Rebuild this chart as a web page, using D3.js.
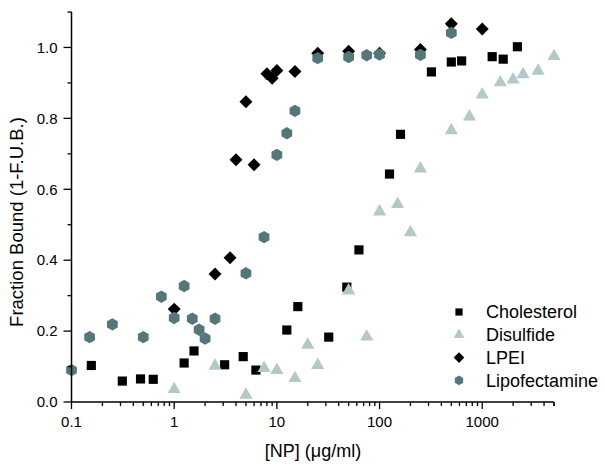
<!DOCTYPE html>
<html><head><meta charset="utf-8">
<script src="https://cdn.jsdelivr.net/npm/d3@7"></script>
<style>body{margin:0;background:#fff;}svg{display:block;font-family:"Liberation Sans",Arial,sans-serif;}</style>
</head><body>
<svg id="c" width="605" height="467"></svg>
<script>
const cholX = [0.156,0.3125,0.47,0.625,1.25,1.56,3.1,4.7,6.25,12.5,16,32,48,63,125,160,320,500,630,1250,1600,2200];
const cholY = [0.103,0.059,0.065,0.064,0.110,0.144,0.105,0.128,0.090,0.203,0.269,0.183,0.324,0.429,0.643,0.755,0.931,0.959,0.962,0.974,0.967,1.002];
const disX = [1,2.5,5,7.5,10,15,20,25,50,75,100,150,200,250,500,750,1000,1500,2000,2500,3500,5000];
const disY = [0.036,0.102,0.020,0.095,0.090,0.067,0.161,0.104,0.314,0.184,0.537,0.558,0.478,0.658,0.766,0.805,0.867,0.901,0.909,0.924,0.934,0.975];
const lpeiX = [1,2.5,3.5,4,5,6,8,9,10,15,25,50,100,250,500,1000];
const lpeiY = [0.262,0.361,0.407,0.683,0.847,0.669,0.926,0.913,0.935,0.932,0.984,0.989,0.984,0.994,1.067,1.052];
const lipoX = [0.1,0.15,0.25,0.5,0.75,1,1.25,1.5,1.75,2,2.5,5,7.5,10,12.5,15,25,50,75,100,250,500];
const lipoY = [0.090,0.183,0.219,0.183,0.297,0.237,0.327,0.235,0.204,0.179,0.235,0.363,0.465,0.697,0.758,0.821,0.970,0.973,0.978,0.980,0.979,1.041];
const seriesNames = ["Cholesterol","Disulfide","LPEI","Lipofectamine"];
const xTickLabels = ["0.1","1","10","100","1000"];
const yTickLabels = ["0.0","0.2","0.4","0.6","0.8","1.0"];

const svg = d3.select("#c");
const L = 71.5, R = 554, T = 12, B = 402;
const x = d3.scaleLog().domain([0.1, 5000]).range([L, R]);
const y = d3.scaleLinear().domain([0, 1.1]).range([B, T]);

const hex = {draw(ctx, size){ const r = Math.sqrt(size/ (3*Math.sqrt(3)/2)); for(let i=0;i<6;i++){const a=Math.PI/2 + i*Math.PI/3; const px=r*Math.cos(a), py=r*Math.sin(a); i?ctx.lineTo(px,py):ctx.moveTo(px,py);} ctx.closePath(); }};
const diamond = {draw(ctx, size){ const r=Math.sqrt(size/2); ctx.moveTo(0,-r); ctx.lineTo(r,0); ctx.lineTo(0,r); ctx.lineTo(-r,0); ctx.closePath(); }};
const styles = [
  {type: d3.symbolSquare, size: 84, fill: "#000"},
  {type: d3.symbolTriangle, size: 75, fill: "#b3c9c8"},
  {type: diamond, size: 84, fill: "#000"},
  {type: hex, size: 100, fill: "#567779"}
];
const legStyles = [
  {type: d3.symbolSquare, size: 52},
  {type: d3.symbolTriangle, size: 50},
  {type: diamond, size: 56},
  {type: hex, size: 60}
];
const data = [[cholX,cholY],[disX,disY],[lpeiX,lpeiY],[lipoX,lipoY]];

data.forEach((d, i) => {
  const pts = d[0].map((v, j) => [v, d[1][j]]);
  svg.append("g").selectAll("path").data(pts).join("path")
    .attr("d", d3.symbol().type(styles[i].type).size(styles[i].size))
    .attr("transform", p => `translate(${x(p[0])},${y(p[1])})`)
    .attr("fill", styles[i].fill);
});

const minorX = [];
for (let e = -1; e <= 3; e++) for (let m = 1; m <= 9; m++) { const v = m*Math.pow(10,e); if (v <= 5000) minorX.push(v); }
minorX.push(5000);
const majorX = [0.1,1,10,100,1000];
const xa = svg.append("g").attr("transform", `translate(0,${B})`);
xa.append("line").attr("x1", L).attr("x2", R).attr("stroke","#000").attr("stroke-width",1.5);
xa.selectAll("line.t").data(minorX).join("line").attr("class","t")
  .attr("x1", d => x(d)).attr("x2", d => x(d)).attr("y1", 0)
  .attr("y2", d => majorX.includes(d) ? 7 : 4).attr("stroke","#000").attr("stroke-width",1.3);
xa.selectAll("text").data(majorX).join("text")
  .attr("x", d => x(d)).attr("y", 25).attr("text-anchor","middle")
  .attr("font-size", 15).text((d,i) => xTickLabels[i]);

const yTicks = d3.range(0, 12).map(i => i/10);
const ya = svg.append("g").attr("transform", `translate(${L},0)`);
ya.append("line").attr("y1", T).attr("y2", B).attr("stroke","#000").attr("stroke-width",1.5);
ya.selectAll("line.t").data(yTicks).join("line").attr("class","t")
  .attr("y1", d => y(d)).attr("y2", d => y(d)).attr("x1", 0)
  .attr("x2", (d,i) => i%2===0 ? -8 : -4).attr("stroke","#000").attr("stroke-width",1.3);
ya.selectAll("text").data(yTicks.filter((d,i)=>i%2===0 && i<=10)).join("text")
  .attr("x", -14).attr("y", d => y(d)).attr("dy","0.35em").attr("text-anchor","end")
  .attr("font-size", 15).text((d,i) => yTickLabels[i]);

svg.append("text").attr("x", 313).attr("y", 457).attr("text-anchor","middle")
  .attr("font-size", 18).text("[NP] (\u03bcg/ml)");
svg.append("text").attr("transform","translate(23,222) rotate(-90)").attr("text-anchor","middle")
  .attr("font-size", 18.5).text("Fraction Bound (1-F.U.B.)");

const lg = svg.append("g");
seriesNames.forEach((n, i) => {
  const yy = 312 + i*22.8;
  lg.append("path").attr("d", d3.symbol().type(legStyles[i].type).size(legStyles[i].size))
    .attr("transform", `translate(459,${yy})`).attr("fill", styles[i].fill);
  lg.append("text").attr("x", 486).attr("y", yy).attr("dy","0.36em").attr("font-size", 18).text(n);
});
</script>
</body></html>
